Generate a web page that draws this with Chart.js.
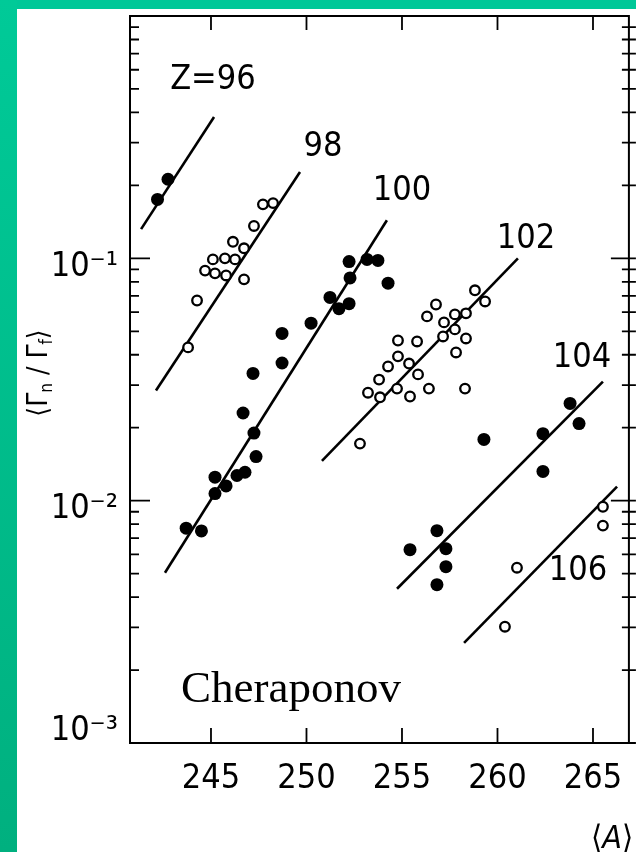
<!DOCTYPE html>
<html><head><meta charset="utf-8">
<script src="https://cdn.jsdelivr.net/npm/chart.js@4.4.1/dist/chart.umd.min.js"></script>
<style>
html,body{margin:0;padding:0;background:#fff;width:636px;height:852px;overflow:hidden;}
#wrap{position:relative;width:636px;height:852px;background:#fff;}
canvas{position:absolute;left:0;top:0;}
#topband{position:absolute;left:0;top:0;width:636px;height:9px;background:#00C898;}
#leftband{position:absolute;left:0;top:0;width:17px;height:852px;background:linear-gradient(#00CA98,#00B07F);}
</style></head><body>
<div id="wrap"><canvas id="c" width="636" height="852"></canvas><div id="topband"></div><div id="leftband"></div></div>
<script>
// ---- data ----
const xTickValues = [245, 250, 255, 260, 265];
const yTickValues = [0.001,0.002,0.003,0.004,0.005,0.006,0.007,0.008,0.009,
                     0.01,0.02,0.03,0.04,0.05,0.06,0.07,0.08,0.09,
                     0.1,0.2,0.3,0.4,0.5,0.6,0.7,0.8,0.9,1];
const yMajorValues = [0.001, 0.01, 0.1];
const yMajorLabels = ['10⁻³', '10⁻²', '10⁻¹'];

const z96X = [242.2, 242.75];
const z96Y = [0.175, 0.212];
const z98X = [247.72, 248.25, 247.25, 246.15, 246.73, 245.1, 245.73, 246.26, 244.69, 245.21, 245.79, 246.73, 244.27, 243.8];
const z98Y = [0.167, 0.169, 0.136, 0.117, 0.110, 0.099, 0.100, 0.099, 0.089, 0.0867, 0.085, 0.0819, 0.067, 0.0429];
const z100X = [252.23, 252.28, 253.17, 253.74, 254.27, 251.23, 251.70, 252.23, 250.24, 248.72, 248.72, 247.2, 246.68, 247.25, 247.36, 246.36, 246.78, 245.79, 245.21, 245.21, 243.7, 244.5];
const z100Y = [0.097, 0.083, 0.099, 0.098, 0.079, 0.069, 0.062, 0.065, 0.054, 0.049, 0.037, 0.0335, 0.023, 0.019, 0.0152, 0.0127, 0.0131, 0.0115, 0.0125, 0.0107, 0.0077, 0.0075];
const z102X = [258.82, 259.35, 256.78, 256.31, 257.77, 258.35, 257.20, 257.77, 257.15, 258.35, 257.83, 254.79, 255.79, 254.79, 254.27, 255.37, 253.80, 255.84, 253.22, 253.85, 254.74, 255.42, 256.41, 258.30, 252.80];
const z102Y = [0.0738, 0.0664, 0.0645, 0.0576, 0.0587, 0.0593, 0.0544, 0.0509, 0.0476, 0.0467, 0.0409, 0.0458, 0.0454, 0.0394, 0.0358, 0.0368, 0.0316, 0.0332, 0.0279, 0.0267, 0.029, 0.0269, 0.029, 0.029, 0.0172];
const z104X = [263.80, 264.27, 262.38, 262.38, 259.29, 256.83, 257.30, 255.42, 257.30, 256.83];
const z104Y = [0.0252, 0.0208, 0.0189, 0.0132, 0.0179, 0.00752, 0.00634, 0.00628, 0.00534, 0.0045];
const z106X = [265.52, 265.52, 261.02, 260.39];
const z106Y = [0.00944, 0.00789, 0.00529, 0.00302];

const fit96X = [241.34, 245.16],  fit96Y = [0.132, 0.383];
const fit98X = [242.12, 249.66],  fit98Y = [0.0285, 0.227];
const fit100X = [242.59, 254.21], fit100Y = [0.00504, 0.1436];
const fit102X = [250.81, 261.07], fit102Y = [0.0146, 0.100];
const fit104X = [254.74, 265.52], fit104Y = [0.00433, 0.031];
const fit106X = [258.25, 266.26], fit106Y = [0.00259, 0.01142];

const curveLabels = ['Z=96', '98', '100', '102', '104', '106'];
const curveLabelX = [245.10, 250.86, 255.0, 261.49, 264.42, 264.21];
const curveLabelY = [0.544, 0.2875, 0.189, 0.12, 0.0386, 0.00514];

const xMin = 240.76, xMax = 266.88;
const yMin = 0.001, yMax = 1;

// ---- build ----
const NARROW = "'Liberation Sans Narrow', 'DejaVu Sans Condensed', sans-serif";
const pts = (xs, ys) => xs.map((x, i) => ({x, y: ys[i]}));
const filled = (xs, ys) => ({data: pts(xs, ys), pointRadius: 6.5, pointBackgroundColor: '#000', pointBorderColor: '#000', pointBorderWidth: 0, showLine: false, order: 1});
const open = (xs, ys) => ({data: pts(xs, ys), pointRadius: 4.8, pointBackgroundColor: '#fff', pointBorderColor: '#000', pointBorderWidth: 2.3, showLine: false, order: 1});
const fit = (xs, ys) => ({data: pts(xs, ys), showLine: true, pointRadius: 0, borderColor: '#000', borderWidth: 2.6, order: 2});

const decor = {
  id: 'decor',
  afterDraw(chart) {
    const {ctx, chartArea: a, scales: {x, y}} = chart;
    ctx.save();
    ctx.strokeStyle = '#000';
    ctx.lineWidth = 2;
    ctx.strokeRect(a.left, a.top, a.right - a.left, a.bottom - a.top);
    ctx.lineWidth = 1.8;
    ctx.beginPath();
    yTickValues.forEach(v => {
      if (v >= yMax) return;
      const py = y.getPixelForValue(v);
      const major = yMajorValues.some(m => Math.abs(m - v) / m < 1e-6);
      ctx.moveTo(a.left, py); ctx.lineTo(a.left + (major ? 20 : 9), py);
      ctx.moveTo(a.right - (major ? 18 : 7), py); ctx.lineTo(a.right + 7, py);
    });
    xTickValues.forEach(v => {
      const px = x.getPixelForValue(v);
      ctx.moveTo(px, a.bottom); ctx.lineTo(px, a.bottom - 15);
      ctx.moveTo(px, a.top); ctx.lineTo(px, a.top + 14);
    });
    ctx.stroke();

    // curve labels
    ctx.fillStyle = '#000';
    ctx.font = '34px ' + NARROW;
    ctx.textAlign = 'center';
    ctx.textBaseline = 'middle';
    curveLabels.forEach((t, i) => {
      ctx.fillText(t, x.getPixelForValue(curveLabelX[i]), y.getPixelForValue(curveLabelY[i]));
    });

    // Cheraponov
    ctx.font = '45px "Liberation Serif", "Times New Roman", serif';
    ctx.textAlign = 'left';
    ctx.textBaseline = 'alphabetic';
    ctx.fillText('Cheraponov', 181, 702);

    // x-axis title <A>
    ctx.font = '32px "DejaVu Sans Condensed", "DejaVu Sans", sans-serif';
    let xx = 591;
    ctx.fillText('⟨', xx, 848); xx += ctx.measureText('⟨').width;
    ctx.font = 'italic 32px "DejaVu Sans Condensed", "DejaVu Sans", sans-serif';
    ctx.fillText('A', xx, 848); xx += ctx.measureText('A').width;
    ctx.font = '32px "DejaVu Sans Condensed", "DejaVu Sans", sans-serif';
    ctx.fillText('⟩', xx, 848);

    // y-axis title <Γn / Γf>
    ctx.translate(47, 373);
    ctx.rotate(-Math.PI / 2);
    const big = '28px "DejaVu Sans Condensed", "DejaVu Sans", sans-serif';
    const small = '17px "DejaVu Sans Condensed", "DejaVu Sans", sans-serif';
    const parts = [['⟨Γ', big, 0], ['n', small, 5], [' / Γ', big, 0], ['f', small, 5], ['⟩', big, 0]];
    let total = 0;
    parts.forEach(p => { ctx.font = p[1]; total += ctx.measureText(p[0]).width; });
    let cx = -total / 2;
    parts.forEach(p => { ctx.font = p[1]; ctx.fillText(p[0], cx, p[2]); cx += ctx.measureText(p[0]).width; });
    ctx.restore();
  }
};

new Chart(document.getElementById('c'), {
  type: 'scatter',
  data: {
    datasets: [
      filled(z96X, z96Y), open(z98X, z98Y), filled(z100X, z100Y),
      open(z102X, z102Y), filled(z104X, z104Y), open(z106X, z106Y),
      fit(fit96X, fit96Y), fit(fit98X, fit98Y), fit(fit100X, fit100Y),
      fit(fit102X, fit102Y), fit(fit104X, fit104Y), fit(fit106X, fit106Y)
    ]
  },
  options: {
    responsive: false,
    animation: false,
    devicePixelRatio: 1,
    layout: {padding: {top: 16, right: 7, left: 0, bottom: 0}},
    plugins: {legend: {display: false}, tooltip: {enabled: false}},
    scales: {
      x: {
        type: 'linear', min: xMin, max: xMax,
        afterBuildTicks(s) { s.ticks = xTickValues.map(v => ({value: v})); },
        afterFit(s) { s.height = 109; s.paddingLeft = 0; s.paddingRight = 0; },
        grid: {display: false, drawTicks: false},
        border: {display: false},
        ticks: {padding: 16, color: '#000', autoSkip: false, maxRotation: 0,
                font: {family: NARROW, size: 34}, callback: v => String(v)}
      },
      y: {
        type: 'logarithmic', min: yMin, max: yMax,
        afterBuildTicks(s) { s.ticks = yTickValues.map(v => ({value: v})); },
        afterFit(s) { s.width = 130; s.paddingTop = 0; s.paddingBottom = 0; },
        grid: {display: false, drawTicks: false},
        border: {display: false},
        ticks: {padding: 12, labelOffset: 9, color: '#000', autoSkip: false,
                font: {family: NARROW, size: 34},
                callback(v) {
                  const i = yMajorValues.findIndex(m => Math.abs(m - v) / m < 1e-6);
                  if (i < 0) return '';
                  return i === 0 ? [yMajorLabels[0], ''] : yMajorLabels[i];
                }}
      }
    }
  },
  plugins: [decor]
});
</script>
</body></html>
